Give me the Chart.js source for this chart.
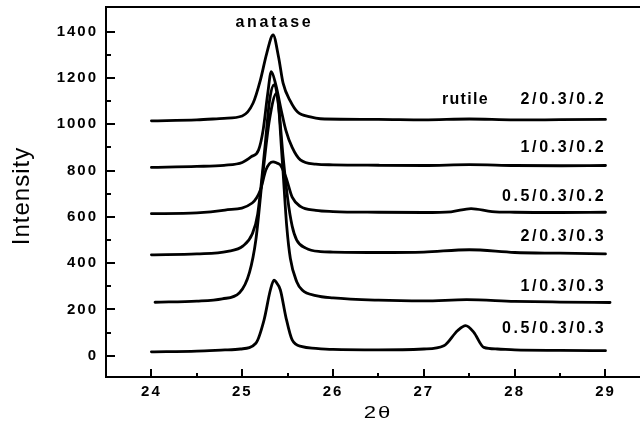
<!DOCTYPE html>
<html><head><meta charset="utf-8">
<script src="https://cdn.jsdelivr.net/npm/chart.js@4"></script>
<style>html,body{margin:0;padding:0;background:#fff;overflow:hidden}#wrap{width:640px;height:427px}</style>
</head><body><div id="wrap"><canvas id="c" width="640" height="427"></canvas></div>
<script>
// ---- data ----
const seriesNames = ['2/0.3/0.2', '1/0.3/0.2', '0.5/0.3/0.2', '2/0.3/0.3', '1/0.3/0.3', '0.5/0.3/0.3'];

const xA = [24.0, 24.5, 24.8, 25.0, 25.12, 25.2, 25.27, 25.34, 25.4, 25.45, 25.53, 25.61, 25.75, 25.86, 26.5, 27.0, 27.5, 28.0, 28.5, 29.0];
const yA = [1015, 1019, 1026, 1036, 1092, 1191, 1307, 1386, 1291, 1178, 1100, 1053, 1032, 1024, 1021, 1019, 1023, 1019, 1020, 1021];

const xB = [24.0, 24.5, 24.8, 25.0, 25.1, 25.18, 25.23, 25.28, 25.32, 25.37, 25.43, 25.48, 25.55, 25.64, 25.81, 26.0, 26.5, 27.0, 27.5, 28.0, 28.5, 29.0];
const yB = [814, 818, 823, 835, 860, 889, 975, 1130, 1228, 1170, 1060, 975, 900, 846, 828, 825, 823, 822, 826, 822, 821, 822];

const xC = [24.0, 24.5, 24.81, 25.11, 25.2, 25.26, 25.3, 25.34, 25.38, 25.42, 25.48, 25.55, 25.64, 25.81, 26.0, 26.5, 27.0, 27.3, 27.52, 27.75, 28.0, 28.5, 29.0];
const yC = [614, 617, 629, 660, 716, 802, 830, 838, 833, 824, 772, 685, 645, 628, 623, 620, 619, 622, 636, 623, 620, 619, 620];

const xD = [24.0, 24.5, 24.84, 25.01, 25.11, 25.17, 25.25, 25.3, 25.35, 25.4, 25.45, 25.5, 25.55, 25.6, 25.7, 25.86, 26.0, 26.5, 27.0, 27.5, 28.0, 28.5, 29.0];
const yD = [436, 440, 451, 475, 526, 612, 900, 1100, 1170, 1080, 860, 680, 560, 500, 465, 450, 448, 446, 448, 458, 446, 443, 440];

const xE = [24.04, 24.5, 24.78, 24.97, 25.08, 25.15, 25.22, 25.3, 25.38, 25.44, 25.49, 25.53, 25.6, 25.66, 25.81, 26.0, 26.5, 27.0, 27.47, 28.0, 28.5, 29.05];
const yE = [231, 236, 246, 272, 360, 500, 760, 1020, 1135, 850, 560, 420, 320, 284, 260, 250, 240, 237, 242, 235, 232, 230];

const xF = [24.0, 24.5, 24.81, 24.98, 25.15, 25.24, 25.31, 25.35, 25.37, 25.42, 25.48, 25.55, 25.66, 25.81, 26.0, 26.5, 27.0, 27.22, 27.37, 27.46, 27.55, 27.66, 27.81, 28.0, 28.5, 29.0];
const yF = [17, 20, 25, 29, 54, 154, 284, 327, 320, 284, 168, 68, 39, 32, 27, 25, 29, 43, 108, 130, 101, 36, 29, 25, 23, 22];

const seriesX = [xA, xB, xC, xD, xE, xF];
const seriesY = [yA, yB, yC, yD, yE, yF];

const xMajorTicks = [24, 25, 26, 27, 28, 29];
const xTickLabels = ['24', '25', '26', '27', '28', '29'];
const xMinorTicks = [24.5, 25.5, 26.5, 27.5, 28.5];
const yMajorTicks = [0, 200, 400, 600, 800, 1000, 1200, 1400];
const yTickLabels = ['0', '200', '400', '600', '800', '1000', '1200', '1400'];
const yMinorTicks = [100, 300, 500, 700, 900, 1100, 1300];

const xTitle = '2θ';
const yTitle = 'Intensity';
const peakNotes = ['anatase', 'rutile'];

// ---- placement of in-plot text (data coordinates) ----
const seriesLabelAnchorX = 28.98;
const seriesLabelAnchorY = [1105, 901, 689, 516, 298, 118];
const peakNoteAnchors = [[25.34, 1439], [27.45, 1105]];

const FONT = '"Liberation Sans", Arial, sans-serif';

function spacedText(ctx, s, x, y, font, spacing, align) {
  ctx.save();
  ctx.font = font;
  ctx.letterSpacing = '0px';
  const w = ctx.measureText(s).width + spacing * (s.length - 1);
  let x0 = x;
  if (align === 'right') x0 = x - w;
  else if (align === 'center') x0 = x - w / 2;
  ctx.letterSpacing = spacing + 'px';
  ctx.textAlign = 'left';
  ctx.textBaseline = 'middle';
  ctx.fillStyle = '#000';
  ctx.fillText(s, x0, y);
  ctx.restore();
}

const framePlugin = {
  id: 'framePlugin',
  beforeDraw(chart) {
    chart.ctx.letterSpacing = '2px';
  },
  afterDraw(chart) {
    const ctx = chart.ctx;
    ctx.letterSpacing = '0px';
    const xs = chart.scales.x, ys = chart.scales.y;
    const a = chart.chartArea;
    ctx.save();
    ctx.strokeStyle = '#000';
    ctx.lineWidth = 2;
    ctx.beginPath();
    ctx.moveTo(a.left - 1, a.top);
    ctx.lineTo(a.right, a.top);
    ctx.stroke();
    const tick = (x1, y1, x2, y2) => { ctx.beginPath(); ctx.moveTo(x1, y1); ctx.lineTo(x2, y2); ctx.stroke(); };
    yMajorTicks.forEach(v => { const p = Math.round(ys.getPixelForValue(v)); tick(a.left, p, a.left + 9, p); });
    yMinorTicks.forEach(v => { const p = Math.round(ys.getPixelForValue(v)); tick(a.left, p, a.left + 5, p); });
    xMajorTicks.forEach(v => { const p = Math.round(xs.getPixelForValue(v)); tick(p, a.bottom, p, a.bottom - 8); });
    xMinorTicks.forEach(v => { const p = Math.round(xs.getPixelForValue(v)); tick(p, a.bottom, p, a.bottom - 4); });
    ctx.restore();

    seriesNames.forEach((n, i) => {
      spacedText(ctx, n, xs.getPixelForValue(seriesLabelAnchorX), ys.getPixelForValue(seriesLabelAnchorY[i]),
        'bold 16px ' + FONT, 2.6, 'right');
    });
    spacedText(ctx, peakNotes[0], xs.getPixelForValue(peakNoteAnchors[0][0]), ys.getPixelForValue(peakNoteAnchors[0][1]),
      'bold 16px ' + FONT, 2.6, 'center');
    spacedText(ctx, peakNotes[1], xs.getPixelForValue(peakNoteAnchors[1][0]), ys.getPixelForValue(peakNoteAnchors[1][1]),
      'bold 16px ' + FONT, 1.3, 'center');

    ctx.save();
    ctx.translate(22, 196.5);
    ctx.rotate(-Math.PI / 2);
    spacedText(ctx, yTitle, 0, 0, '24px ' + FONT, 1, 'center');
    ctx.restore();

    ctx.save();
    ctx.translate(377, 413);
    ctx.scale(1.3, 1);
    spacedText(ctx, xTitle, 0, 0, '17px ' + FONT, 1.5, 'center');
    ctx.restore();
  }
};

const datasets = seriesNames.map((name, i) => ({
  label: name,
  data: seriesX[i].map((x, j) => ({ x: x, y: seriesY[i][j] })),
  borderColor: '#000',
  borderWidth: 2.8,
  pointRadius: 0,
  fill: false,
  cubicInterpolationMode: 'monotone',
  borderCapStyle: 'round',
  borderJoinStyle: 'round'
}));

new Chart(document.getElementById('c'), {
  type: 'line',
  data: { datasets },
  options: {
    responsive: false,
    animation: false,
    events: [],
    layout: { padding: { top: 7, right: 0, left: 0, bottom: 0 } },
    plugins: { legend: { display: false }, tooltip: { enabled: false } },
    scales: {
      x: {
        type: 'linear',
        min: 23.5,
        max: 29.38,
        afterBuildTicks: s => { s.ticks = xMajorTicks.map(v => ({ value: v })); },
        afterFit: s => { s.height = 50; s.paddingLeft = 0; s.paddingRight = 0; },
        grid: { display: false, drawTicks: false },
        border: { display: true, color: '#000', width: 2 },
        ticks: {
          autoSkip: false, maxRotation: 0, minRotation: 0,
          padding: 7, color: '#000',
          font: { family: FONT, size: 15, weight: 'bold', lineHeight: 1.05 },
          callback: (v, i) => xTickLabels[i]
        }
      },
      y: {
        type: 'linear',
        min: -92,
        max: 1507,
        afterBuildTicks: s => { s.ticks = yMajorTicks.map(v => ({ value: v })); },
        afterFit: s => { s.width = 106; s.paddingTop = 0; s.paddingBottom = 0; },
        grid: { display: false, drawTicks: false },
        border: { display: true, color: '#000', width: 2 },
        ticks: {
          autoSkip: false, padding: 8, color: '#000',
          font: { family: FONT, size: 15, weight: 'bold', lineHeight: 1.05 },
          callback: (v, i) => yTickLabels[i]
        }
      }
    }
  },
  plugins: [framePlugin]
});
</script>
</body></html>
